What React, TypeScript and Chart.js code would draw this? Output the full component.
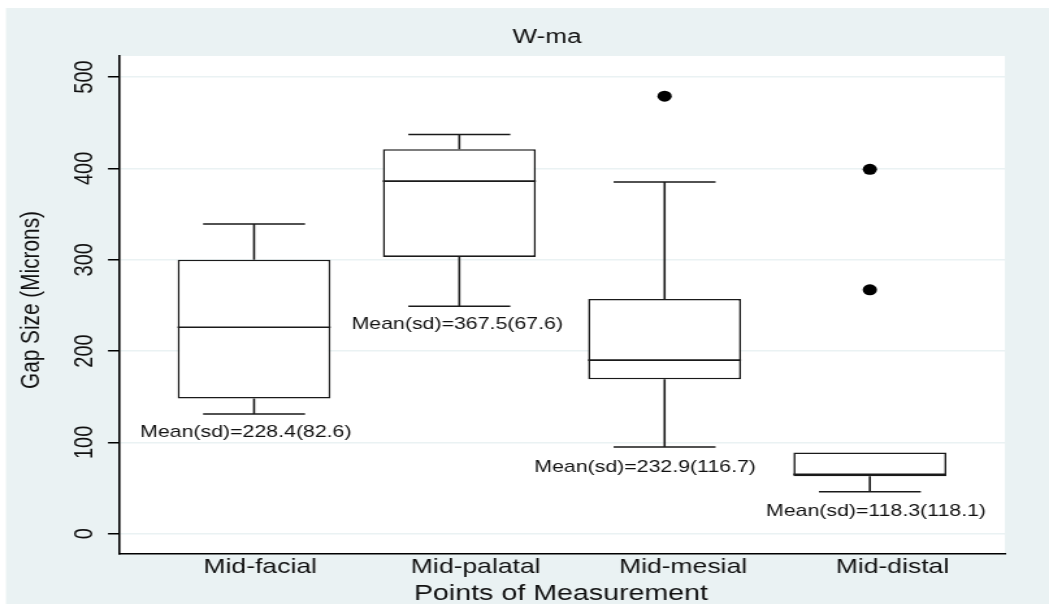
import { useEffect, useRef } from 'react';
import { Chart, registerables } from 'chart.js';

Chart.register(...registerables);

// ---- data ----
const categories = ['Mid-facial', 'Mid-palatal', 'Mid-mesial', 'Mid-distal'];
const categoryLabelX = [1.03, 2.08, 3.09, 4.11];
const whiskerLow = [131, 249, 95, 46];
const q1 = [148, 303, 169, 63];
const median = [226, 386, 190, 65];
const q3 = [300, 421, 257, 89];
const whiskerHigh = [339, 437, 385, 89];
const outlierX = [3, 4, 4];
const outlierY = [479, 399, 267];
const meanLabels = [
  'Mean(sd)=228.4(82.6)',
  'Mean(sd)=367.5(67.6)',
  'Mean(sd)=232.9(116.7)',
  'Mean(sd)=118.3(118.1)',
];
const meanLabelX = [0.96, 1.99, 2.905, 4.03];
const meanLabelY = [111, 229, 72, 24];
const yTickValues = [0, 100, 200, 300, 400, 500];
const yTickLabels = ['0', '100', '200', '300', '400', '500'];
const chartTitle = 'W-ma';
const xTitle = 'Points of Measurement';
const yTitle = 'Gap Size (Microns)';

// ---- layout / style ----
const FONT = '"Liberation Sans", Arial, Helvetica, sans-serif';
const STRETCH = 1.3;
const PAGE_W = 1049;
const PAGE_H = 605;
const CW = Math.round(PAGE_W / STRETCH);
const BG = '#eaf2f3';
const INK = '#111111';

export default function App() {
  const ref = useRef<HTMLCanvasElement>(null);

  useEffect(() => {
    const canvas = ref.current;
    if (!canvas) return;

    const boxPlugin = {
      id: 'stataBox',
      beforeDraw(chart: any) {
        const { ctx, chartArea: a, width, height } = chart;
        ctx.save();
        ctx.fillStyle = '#ffffff';
        ctx.fillRect(0, 0, width, height);
        ctx.fillStyle = BG;
        ctx.fillRect(6 / STRETCH, 8, width, 596);
        ctx.fillStyle = '#ffffff';
        ctx.fillRect(a.left, a.top, a.right - a.left, a.bottom - a.top);
        ctx.restore();
      },
      afterDatasetsDraw(chart: any) {
        const { ctx } = chart;
        const xs = chart.scales.x;
        const ys = chart.scales.y;
        const meta = chart.getDatasetMeta(0);
        ctx.save();
        ctx.strokeStyle = '#1a1a1a';
        ctx.lineWidth = 1.6;
        categories.forEach((_, i) => {
          const bar = meta.data[i];
          const cx = xs.getPixelForValue(i + 1);
          const half = bar.width / 2;
          const cap = half * 2 / 3;
          const yMed = ys.getPixelForValue(median[i]);
          const yQ1 = ys.getPixelForValue(q1[i]);
          const yQ3 = ys.getPixelForValue(q3[i]);
          const yLo = ys.getPixelForValue(whiskerLow[i]);
          const yHi = ys.getPixelForValue(whiskerHigh[i]);
          ctx.beginPath();
          ctx.moveTo(cx - half, yMed);
          ctx.lineTo(cx + half, yMed);
          if (whiskerHigh[i] > q3[i]) {
            ctx.moveTo(cx, yQ3);
            ctx.lineTo(cx, yHi);
            ctx.moveTo(cx - cap, yHi);
            ctx.lineTo(cx + cap, yHi);
          }
          if (whiskerLow[i] < q1[i]) {
            ctx.moveTo(cx, yQ1);
            ctx.lineTo(cx, yLo);
            ctx.moveTo(cx - cap, yLo);
            ctx.lineTo(cx + cap, yLo);
          }
          ctx.stroke();
        });
        ctx.restore();
      },
      afterDraw(chart: any) {
        const { ctx } = chart;
        const xs = chart.scales.x;
        const ys = chart.scales.y;
        ctx.save();
        ctx.fillStyle = INK;
        ctx.textAlign = 'center';
        ctx.textBaseline = 'middle';

        // title
        ctx.font = `20px ${FONT}`;
        ctx.fillText(chartTitle, 547 / STRETCH, 37);

        // y tick labels (rotated)
        ctx.font = `20px ${FONT}`;
        yTickValues.forEach((v, i) => {
          const y = ys.getPixelForValue(v);
          ctx.save();
          ctx.translate(85 / STRETCH, y);
          ctx.rotate(-Math.PI / 2);
          ctx.fillText(yTickLabels[i], 0, 0);
          ctx.restore();
        });

        // y title
        ctx.save();
        ctx.font = `20.8px ${FONT}`;
        ctx.translate(31.5 / STRETCH, 300);
        ctx.rotate(-Math.PI / 2);
        ctx.fillText(yTitle, 0, 0);
        ctx.restore();

        // x category labels
        ctx.font = `20.4px ${FONT}`;
        categories.forEach((c, i) => {
          ctx.fillText(c, xs.getPixelForValue(categoryLabelX[i]), 567);
        });

        // x title
        ctx.font = `22px ${FONT}`;
        ctx.fillText(xTitle, 561 / STRETCH, 594);

        // mean annotations
        ctx.font = `16.4px ${FONT}`;
        meanLabels.forEach((t, i) => {
          ctx.fillText(t, xs.getPixelForValue(meanLabelX[i]), ys.getPixelForValue(meanLabelY[i]));
        });
        ctx.restore();
      },
    };

    const chart = new Chart(canvas, {
      type: 'bar',
      data: {
        datasets: [
          {
            type: 'bar',
            data: categories.map((_, i) => ({ x: i + 1, y: [q1[i], q3[i]] })) as any,
            backgroundColor: '#ffffff',
            borderColor: '#1a1a1a',
            borderWidth: 1.6,
            borderSkipped: false,
            barPercentage: 0.745,
            categoryPercentage: 1,
          },
          {
            type: 'scatter',
            data: outlierX.map((x, i) => ({ x, y: outlierY[i] })),
            backgroundColor: '#000000',
            borderColor: '#000000',
            pointRadius: 5.5,
            borderWidth: 0,
          } as any,
        ],
      },
      options: {
        animation: false,
        responsive: false,
        devicePixelRatio: 1,
        layout: { padding: { top: 56, right: CW - 1005 / STRETCH, left: 0, bottom: 0 } },
        plugins: { legend: { display: false }, tooltip: { enabled: false }, title: { display: false } },
        scales: {
          x: {
            type: 'linear',
            min: 0.342,
            max: 4.658,
            offset: false,
            afterBuildTicks: (s: any) => {
              s.ticks = categories.map((_, i) => ({ value: i + 1 }));
            },
            ticks: { display: false },
            grid: { display: true, drawOnChartArea: false, drawTicks: false },
            border: { display: true, color: '#000000', width: 1.6 },
            afterFit: (s: any) => {
              s.height = PAGE_H - 554;
            },
          },
          y: {
            type: 'linear',
            min: -22.2,
            max: 523,
            afterBuildTicks: (s: any) => {
              s.ticks = yTickValues.map((v) => ({ value: v }));
            },
            ticks: { display: false },
            grid: { color: BG, tickColor: '#000000', tickLength: 11 / STRETCH, lineWidth: 1.5 },
            border: { display: true, color: '#000000', width: 1.6 },
            afterFit: (s: any) => {
              s.width = 119 / STRETCH;
            },
          },
        },
      } as any,
      plugins: [boxPlugin],
    });

    return () => chart.destroy();
  }, []);

  return (
    <div style={{ position: 'fixed', left: 0, top: 0, width: PAGE_W, height: PAGE_H, background: '#fff', overflow: 'hidden' }}>
      <canvas
        ref={ref}
        width={CW}
        height={PAGE_H}
        style={{ width: `${PAGE_W}px`, height: `${PAGE_H}px`, display: 'block' }}
      />
    </div>
  );
}
